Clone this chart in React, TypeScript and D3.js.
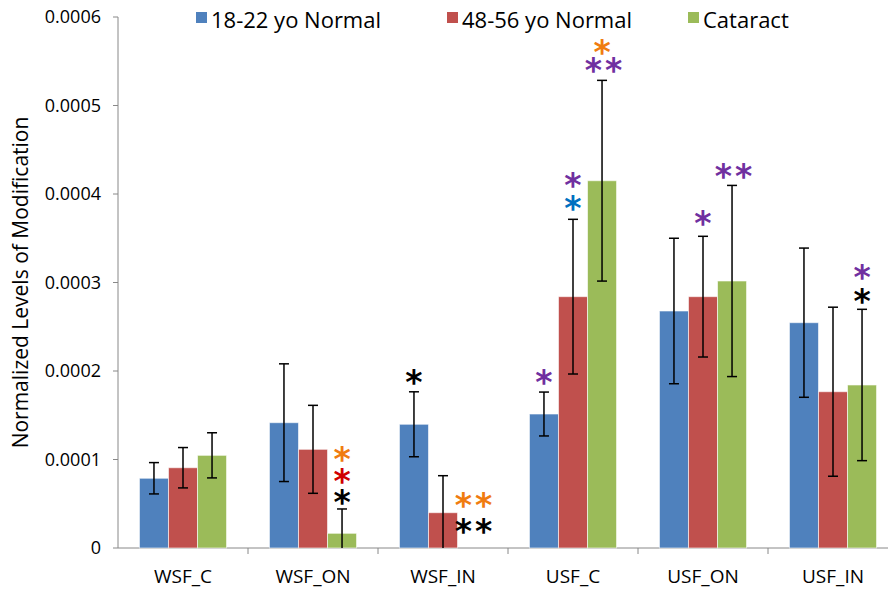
import React from "react";
import * as d3 from "d3";

const categories = ["WSF_C", "WSF_ON", "WSF_IN", "USF_C", "USF_ON", "USF_IN"];
const seriesNames = ["18-22 yo Normal", "48-56 yo Normal", "Cataract"];
const young = [0.0000788, 0.0001416, 0.0001398, 0.0001514, 0.0002678, 0.0002546];
const old = [0.0000907, 0.0001115, 0.0000399, 0.000284, 0.000284, 0.0001766];
const cataract = [0.0001047, 0.0000166, 0, 0.000415, 0.0003017, 0.0001842];
const youngErr = [0.0000177, 0.0000665, 0.0000367, 0.0000248, 0.0000822, 0.0000843];
const oldErr = [0.0000228, 0.0000497, 0.0000418, 0.0000874, 0.0000682, 0.0000955];
const cataractErr = [0.0000255, 0.0000275, 0, 0.0001134, 0.000108, 0.0000855];
const yTicks = [0, 0.0001, 0.0002, 0.0003, 0.0004, 0.0005, 0.0006];
const yTickLabels = ["0", "0.0001", "0.0002", "0.0003", "0.0004", "0.0005", "0.0006"];

// significance markers: category, series index, text, colour, vertical position (data units)
const markCategory = ["WSF_ON", "WSF_ON", "WSF_ON", "WSF_IN", "WSF_IN", "WSF_IN", "USF_C", "USF_C", "USF_C", "USF_C", "USF_C", "USF_ON", "USF_ON", "USF_IN", "USF_IN"];
const markSeries = [2, 2, 2, 0, 2, 2, 0, 1, 1, 2, 2, 1, 2, 2, 2];
const markText = ["*", "*", "*", "*", "**", "**", "*", "*", "*", "*", "**", "*", "**", "*", "*"];
const markColor = ["#F07C10", "#D00000", "#000000", "#000000", "#F07C10", "#000000", "#7030A0", "#7030A0", "#0070C0", "#F07C10", "#7030A0", "#7030A0", "#7030A0", "#7030A0", "#000000"];
const markValue = [0.0001073, 0.0000825, 0.0000588, 0.0001944, 0.0000554, 0.000026, 0.0001944, 0.000417, 0.000391, 0.000567, 0.000547, 0.000374, 0.000427, 0.000313, 0.000286];

const colors = ["#4F81BD", "#C0504D", "#9BBB59"];
const FONT = "'Open Sans', 'Liberation Sans', sans-serif";

export default function App() {
  const W = 888, H = 589;
  const x0 = 118, xEnd = 898, yTop = 17, yBase = 548;
  const values = [young, old, cataract];
  const errs = [youngErr, oldErr, cataractErr];

  const x = d3.scaleBand<string>().domain(categories).range([x0, xEnd]).paddingInner(0.33).paddingOuter(0.165);
  const xs = d3.scaleBand<number>().domain([0, 1, 2]).range([0, x.bandwidth()]);
  const y = d3.scaleLinear().domain([0, 0.0006]).range([yBase, yTop]);
  const step = x.step();
  const axisColor = "#888888";

  const bars: React.ReactNode[] = [];
  const errBars: React.ReactNode[] = [];
  categories.forEach((c, ci) => {
    values.forEach((vals, si) => {
      const v = vals[ci];
      const bx = (x(c) as number) + (xs(si) as number);
      const bw = xs.bandwidth();
      if (v > 0) {
        bars.push(
          <rect key={`b${ci}-${si}`} x={bx} y={y(v)} width={bw} height={yBase - y(v)}
            fill={colors[si]} stroke="#ffffff" strokeOpacity={0.6} strokeWidth={1} />
        );
      }
      const e = errs[si][ci];
      if (e > 0) {
        const cx = bx + bw / 2;
        const top = v + e;
        const bot = v - e;
        const yb = bot < 0 ? yBase : y(bot);
        errBars.push(
          <g key={`e${ci}-${si}`} stroke="#000" strokeWidth={1.5}>
            <line x1={cx} x2={cx} y1={y(top)} y2={yb} />
            <line x1={cx - 5} x2={cx + 5} y1={y(top)} y2={y(top)} />
            {bot >= 0 && <line x1={cx - 5} x2={cx + 5} y1={y(bot)} y2={y(bot)} />}
          </g>
        );
      }
    });
  });

  // group the markers that sit above the same bar into one text element
  const groups = d3.groups(markCategory.map((c, i) => i), (i) => `${markCategory[i]}|${markSeries[i]}`);
  const marks = groups.map(([key, idx]) => {
    const i0 = idx[0];
    const si = markSeries[i0];
    const cx = (x(markCategory[i0]) as number) + (xs(si) as number) + xs.bandwidth() / 2;
    return (
      <text key={`m${key}`} textAnchor="middle"
        fontFamily="'DejaVu Sans', sans-serif" fontWeight="bold" fontSize={33}>
        {idx.map((i) => (
          <tspan key={i} x={markText[i].length > 1 ? cx + 3 : cx} y={y(markValue[i]) + 18}
            fill={markColor[i]} letterSpacing={markText[i].length > 1 ? 3 : 0}>{markText[i]}</tspan>
        ))}
      </text>
    );
  });

  const legendX = [196, 447, 688];

  return (
    <svg width={W} height={H} style={{ position: "absolute", left: 0, top: 0, background: "#fff" }}>
      <rect x={0} y={0} width={W} height={H} fill="#fff" />
      {/* y axis */}
      <line x1={x0} x2={x0} y1={yTop} y2={yBase} stroke={axisColor} strokeWidth={1} />
      {yTicks.map((t, i) => (
        <g key={`yt${i}`}>
          <line x1={x0 - 5} x2={x0} y1={y(t)} y2={y(t)} stroke={axisColor} />
          <text x={101} y={y(t) + 6} textAnchor="end" fontFamily={FONT} fontSize={18} fill="#000">{yTickLabels[i]}</text>
        </g>
      ))}
      {/* x axis */}
      <line x1={x0} x2={W} y1={yBase} y2={yBase} stroke={axisColor} strokeWidth={1} />
      {categories.map((c, i) => (
        <g key={`xt${i}`}>
          <line x1={x0 + step * (i + 1)} x2={x0 + step * (i + 1)} y1={yBase} y2={yBase + 6} stroke={axisColor} />
          <text x={(x(c) as number) + x.bandwidth() / 2} y={583} textAnchor="middle" fontFamily={FONT} fontSize={19} fill="#000">{c}</text>
        </g>
      ))}
      {bars}
      {errBars}
      {marks}
      {/* y title */}
      <text transform={`translate(28, ${(yTop + yBase) / 2}) rotate(-90)`} textAnchor="middle" fontFamily={FONT} fontSize={21} fill="#000">Normalized Levels of Modification</text>
      {/* legend */}
      {seriesNames.map((n, i) => (
        <g key={`lg${i}`}>
          <rect x={legendX[i]} y={12} width={11} height={11} fill={colors[i]} />
          <text x={legendX[i] + 15} y={28} fontFamily={FONT} fontSize={22} fill="#000">{n}</text>
        </g>
      ))}
    </svg>
  );
}
